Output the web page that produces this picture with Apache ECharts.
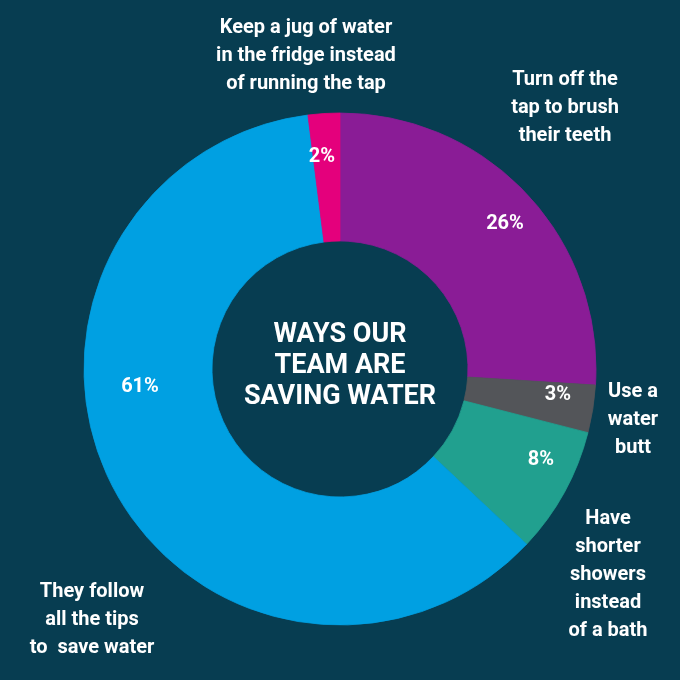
<!DOCTYPE html>
<html>
<head>
<meta charset="utf-8">
<script src="https://cdn.jsdelivr.net/npm/echarts@6/dist/echarts.min.js"></script>
<style>
  html, body { margin: 0; padding: 0; background: #073d51; }
  #chart { width: 680px; height: 680px; }
</style>
</head>
<body>
<div id="chart"></div>
<script>
// slices, clockwise from 12 o'clock
const categories = [
  'Turn off the\ntap to brush\ntheir teeth',
  'Use a\nwater\nbutt',
  'Have\nshorter\nshowers\ninstead\nof a bath',
  'They follow\nall the tips\nto  save water',
  'Keep a jug of water\nin the fridge instead\nof running the tap'
];
const values = [26, 3, 8, 61, 2];
const colors = ['#8a1c96', '#535559', '#21a08f', '#00a0e2', '#e4007c'];
const centerTitle = 'WAYS OUR\nTEAM ARE\nSAVING WATER';

// where the labels sit (the picture places them by hand)
const pctPos = [[505, 224], [558, 395], [541, 460], [140, 387], [322, 157]];
const namePos = [[565, 108], [633, 420], [608, 575], [92, 620], [306, 56]];

const font = 'Roboto, "Noto Sans", sans-serif';

const chart = echarts.init(document.getElementById('chart'), null, { renderer: 'canvas' });

// border in the slice's own colour hides the hairline seams between sectors
const pieData = categories.map((name, i) => ({
  name: name,
  value: values[i],
  itemStyle: { color: colors[i], borderColor: colors[i], borderWidth: 0.8 }
}));

const base = {
  type: 'pie',
  center: ['50%', 369],
  radius: [128, 256],
  startAngle: 90,
  clockwise: true,
  silent: true,
  animation: false,
  labelLine: { show: false }
};

chart.setOption({
  backgroundColor: '#073d51',
  series: [
    Object.assign({}, base, {
      data: pieData,
      label: {
        show: true,
        position: 'inside',
        formatter: '{c}%',
        color: '#fff',
        fontFamily: font,
        fontWeight: 'bold',
        fontSize: 20
      },
      labelLayout: function (p) {
        const xy = pctPos[p.dataIndex];
        return { x: xy[0], y: xy[1], align: 'center', verticalAlign: 'middle' };
      }
    }),
    // same ring again, invisible, only to carry the outer names
    Object.assign({}, base, {
      data: pieData.map(d => ({ name: d.name, value: d.value, itemStyle: { color: 'rgba(0,0,0,0)', borderWidth: 0 } })),
      label: {
        show: true,
        position: 'inside',
        formatter: '{b}',
        color: '#fff',
        fontFamily: font,
        fontWeight: 'bold',
        fontSize: 20,
        lineHeight: 28,
        align: 'center'
      },
      labelLayout: function (p) {
        const xy = namePos[p.dataIndex];
        return { x: xy[0], y: xy[1], align: 'center', verticalAlign: 'middle' };
      }
    })
  ],
  graphic: [{
    type: 'text',
    x: 340,
    y: 366,
    style: {
      text: centerTitle,
      fill: '#fff',
      font: 'bold 27px ' + font,
      lineHeight: 31,
      align: 'center',
      verticalAlign: 'middle'
    }
  }]
});
</script>
</body>
</html>
